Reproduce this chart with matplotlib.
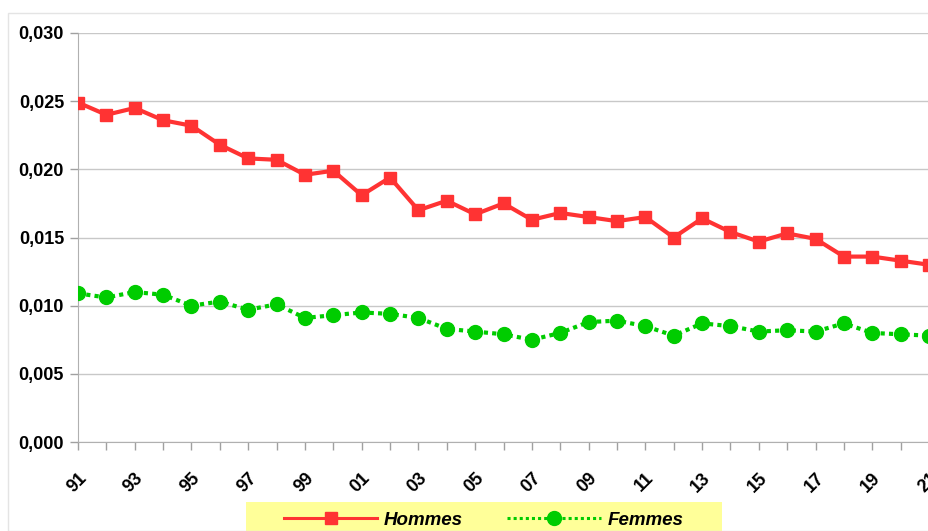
import matplotlib
matplotlib.use("Agg")
import matplotlib.pyplot as plt
from matplotlib.patches import Rectangle
from matplotlib.ticker import FuncFormatter, MultipleLocator

plt.rcParams['font.family'] = ['Liberation Sans', 'DejaVu Sans']

# Années 1991 à 2021
annees = list(range(1991, 2022))

hommes = [0.0249, 0.0240, 0.0245, 0.0236, 0.0232, 0.0218, 0.0208, 0.0207,
          0.0196, 0.0199, 0.0181, 0.0194, 0.0170, 0.0177, 0.0167, 0.0175,
          0.0163, 0.0168, 0.0165, 0.0162, 0.0165, 0.0150, 0.0164, 0.0154,
          0.0147, 0.0153, 0.0149, 0.0136, 0.0136, 0.0133, 0.0130]

femmes = [0.0109, 0.0106, 0.0110, 0.0108, 0.0100, 0.0103, 0.0097, 0.0101,
          0.0091, 0.0093, 0.0095, 0.0094, 0.0091, 0.0083, 0.0081, 0.0079,
          0.0075, 0.0080, 0.0088, 0.0089, 0.0085, 0.0078, 0.0087, 0.0085,
          0.0081, 0.0082, 0.0081, 0.0087, 0.0080, 0.0079, 0.0078]

W, H = 929, 531
fig = plt.figure(figsize=(W / 100, H / 100), dpi=100)
ax = fig.add_axes([78 / W, 89 / H, 1 - 78 / W, (442 - 33) / H])

# cadre léger autour du graphique
fig.patches.append(Rectangle((8 / W, 0), 1, (H - 13) / H, transform=fig.transFigure,
                             fill=False, edgecolor='#e4e4e4', lw=1))
# fond jaune de la légende
fig.patches.append(Rectangle((246 / W, 0), (722 - 246) / W, (H - 502) / H,
                             transform=fig.transFigure, facecolor='#ffff99',
                             edgecolor='none', zorder=0))

ax.plot(annees, hommes, color='#ff3333', lw=3, marker='s', markersize=9,
        label='Hommes', zorder=3)
ax.plot(annees, femmes, color='#00cc00', lw=3, linestyle=(0, (1, 1)), marker='o',
        markersize=10, label='Femmes', zorder=3)

ax.set_xlim(1991, 2021)
ax.set_ylim(0, 0.030)
ax.yaxis.set_major_locator(MultipleLocator(0.005))
ax.yaxis.set_major_formatter(FuncFormatter(lambda v, p: f"{v:.3f}".replace('.', ',')))
ax.grid(axis='y', color='#c8c8c8', lw=1)
ax.set_axisbelow(True)

ax.set_xticks(annees)
ax.set_xticklabels([f"{a % 100:02d}" if (a - 1991) % 2 == 0 else "" for a in annees],
                   rotation=45, ha='right', rotation_mode='anchor',
                   fontweight='bold', fontsize=13)
for lab in ax.get_yticklabels():
    lab.set_fontweight('bold')
    lab.set_fontsize(13)

ax.tick_params(axis='both', colors='#a0a0a0', length=6, width=1, labelcolor='black')
ax.tick_params(axis='x', pad=14)
ax.tick_params(axis='y', pad=4)
for s in ['top', 'right']:
    ax.spines[s].set_visible(False)
for s in ['left', 'bottom']:
    ax.spines[s].set_color('#b0b0b0')

leg = fig.legend(loc='center', bbox_to_anchor=(483.5 / W, (H - 520) / H), ncol=2,
                 frameon=False, handlelength=5.0, columnspacing=2.35,
                 borderpad=0, borderaxespad=0, handletextpad=0.35,
                 prop={'weight': 'bold', 'style': 'italic', 'size': 13.5})
for h in leg.legend_handles:
    h.set_linewidth(2.2)

fig.savefig('out.png', dpi=100)
